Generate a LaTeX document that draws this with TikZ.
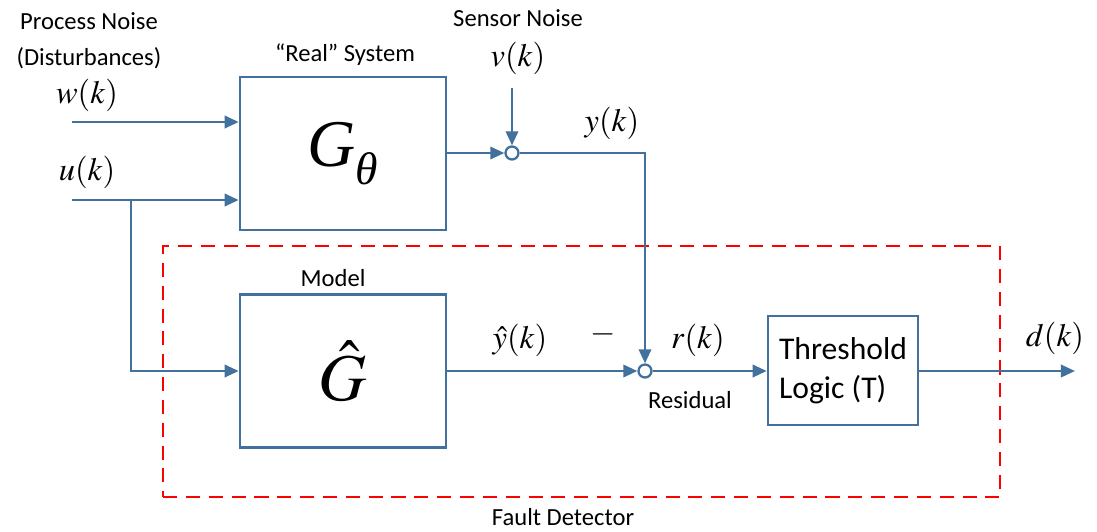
\documentclass[tikz,border=0pt]{standalone}
\usepackage{mathptmx}
\usepackage{fontspec}
\setmainfont{Carlito}
\newfontfamily\timesfont{Liberation Serif}
\usetikzlibrary{positioning,arrows.meta}
\definecolor{sysblue}{RGB}{65,113,156}
\tikzset{
  >={Triangle[length=8pt,width=7pt]},
  block/.style={draw=sysblue, line width=1.5pt, minimum width=4.12cm, minimum height=3.06cm, inner sep=0pt},
  sumdot/.style={circle, draw=sysblue, line width=1.3pt, fill=white, inner sep=0pt, minimum size=0.26cm},
  flow/.style={draw=sysblue, line width=1.5pt, ->},
  sig/.style={font=\fontsize{18.5}{22}\selectfont},
  note/.style={font=\fontsize{14}{20.5}\selectfont, align=center},
  faultbox/.style={draw=red, line width=1.4pt, dash pattern=on 8pt off 5pt, minimum width=16.74cm, minimum height=5.02cm, inner sep=0pt},
}

\begin{document}
\begin{tikzpicture}[x=0.02cm, y=-0.02cm]
    \useasboundingbox (0,0) rectangle (1097,531);
    % fault detector frame
    \node[faultbox] (detector) at (581.5,371.5) {};
    % blocks
    \node[block, font=\fontsize{38}{40}\selectfont] (plant) at (343,153.5)
      {\timesfont\itshape G\raisebox{-0.28em}{\fontsize{26}{28}\selectfont θ}};
    \node[block, font=\fontsize{38}{40}\selectfont] (model) at (343,371) {$\hat{G}$};
    \node[block, minimum width=3cm, minimum height=2.18cm, align=left,
          font=\fontsize{18}{22}\selectfont] (thr) at (843,370.5) {Threshold\\Logic (T)};
    \node[sumdot] (sumy) at (512,153) {};
    \node[sumdot] (sumr) at (645,371) {};
    % free ends
    \coordinate (win) at (72,122);
    \coordinate (uin) at (72,200);
    \coordinate (ubr) at (131,200);
    \coordinate (vin) at (512,88);
    \coordinate (dout) at (1075,371);
    % labels
    \node[note] (procnoise) at (89,41) {Process Noise\\(Disturbances)};
    \node[sig] (lblw) at (87,95) {$w(k)$};
    \node[sig] (lblu) at (87,172) {$u(k)$};
    \node[note] (lblreal) at (345,55) {``Real'' System};
    \node[note] (sensnoise) at (518,18) {Sensor Noise};
    \node[sig] (lblv) at (518,58) {$v(k)$};
    \node[sig] (lbly) at (612,123) {$y(k)$};
    \node[note] (lblmodel) at (333,278) {Model};
    \node[sig] (lblyhat) at (520,340) {$\hat{y}(k)$};
    \node[sig] (lblminus) at (603,334) {$-$};
    \node[sig] (lblr) at (698,340) {$r(k)$};
    \node[note] (lblres) at (690,400) {Residual};
    \node[sig] (lbld) at (1055,338) {$d(k)$};
    \node[note] (lblfault) at (563,517) {Fault Detector};
    % signals
    \draw[flow] (win) -- (win -| plant.west);
    \draw[flow] (uin) -- (uin -| plant.west);
    \draw[flow] (ubr) |- (model.west);
    \draw[flow] (plant.east |- sumy) -- (sumy.west);
    \draw[flow] (vin) -- (sumy.north);
    \draw[flow] (sumy.east) -| (sumr.north);
    \draw[flow] (model.east |- sumr) -- (sumr.west);
    \draw[flow] (sumr.east) -- (sumr.east -| thr.west);
    \draw[flow] (thr.east |- dout) -- (dout);
\end{tikzpicture}
\end{document}
